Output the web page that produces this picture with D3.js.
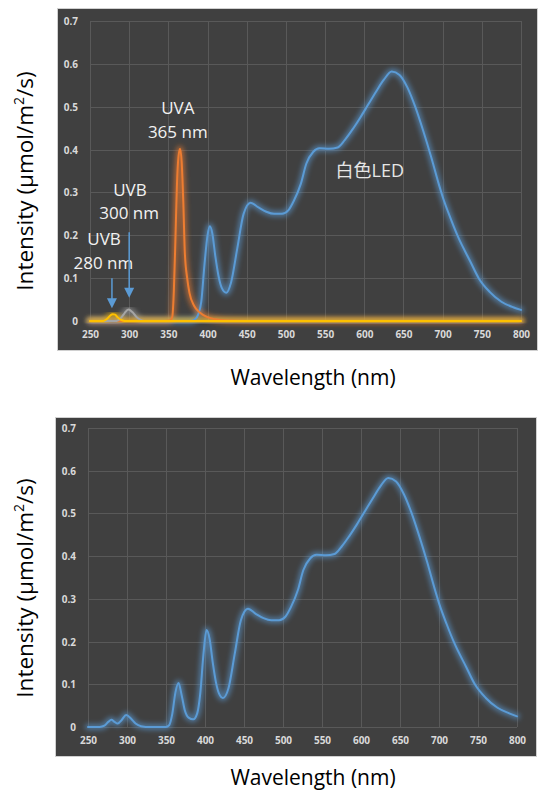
<!DOCTYPE html>
<html>
<head>
<meta charset="utf-8">
<script src="https://cdn.jsdelivr.net/npm/d3@7"></script>
<style>
  html, body { margin: 0; padding: 0; background: #ffffff; }
  svg { display: block; }
</style>
</head>
<body>
<svg id="chart" width="538" height="791"></svg>
<script>
// ---------------- DATA ----------------
const xTicks = [250, 300, 350, 400, 450, 500, 550, 600, 650, 700, 750, 800];
const yTicks = [0, 0.1, 0.2, 0.3, 0.4, 0.5, 0.6, 0.7];
const yTickLabels = ["0", "0.1", "0.2", "0.3", "0.4", "0.5", "0.6", "0.7"];

// White LED spectrum (top chart) [wavelength nm, intensity]
const ledTop = [
  [250, 0], [300, 0], [350, 0], [378, 0], [384, 0.004], [388, 0.015], [392, 0.045],
  [396, 0.13], [400, 0.2], [403, 0.221], [406, 0.205], [410, 0.15], [414, 0.105],
  [418, 0.078], [424, 0.066], [430, 0.09], [438, 0.17], [446, 0.25], [455, 0.276],
  [465, 0.265], [475, 0.255], [485, 0.25], [495, 0.25], [503, 0.258], [510, 0.28],
  [519, 0.32], [526, 0.367], [535, 0.395], [543, 0.403], [555, 0.402], [566, 0.405],
  [575, 0.422], [585, 0.447], [595, 0.475], [605, 0.505], [615, 0.535], [625, 0.563],
  [635, 0.582], [645, 0.574], [655, 0.545], [665, 0.5], [675, 0.445], [685, 0.385],
  [695, 0.32], [700, 0.29], [710, 0.24], [720, 0.195], [735, 0.14], [746, 0.1],
  [760, 0.068], [775, 0.045], [790, 0.032], [800, 0.026]
];

// UVA 365 nm LED (top chart)
const uva365 = [
  [250, 0], [345, 0], [352, 0.001], [355, 0.01], [357, 0.07], [359, 0.19], [361, 0.32],
  [363, 0.385], [365, 0.402], [367, 0.37], [369, 0.28], [371, 0.16], [374, 0.1],
  [377, 0.065], [383, 0.035], [390, 0.02], [400, 0.009], [410, 0.004], [425, 0.001],
  [450, 0], [800, 0]
];

// UVB 300 nm (top chart)
const uvb300 = [
  [250, 0], [284, 0], [289, 0.006], [294, 0.018], [299, 0.027], [304, 0.021],
  [309, 0.01], [314, 0.003], [320, 0], [800, 0]
];

// UVB 280 nm (top chart)
const uvb280 = [
  [250, 0], [267, 0], [272, 0.005], [276, 0.013], [279, 0.016], [282, 0.015],
  [285, 0.009], [289, 0.003], [294, 0], [800, 0]
];

// White LED spectrum (bottom chart)
const ledBottom = [
  [250, 0], [265, 0], [271, 0.003], [276, 0.012], [280, 0.017], [284, 0.012],
  [288, 0.008], [293, 0.016], [299, 0.028], [305, 0.02], [311, 0.008], [318, 0.002],
  [330, 0], [350, 0], [354, 0.004], [358, 0.03], [362, 0.08], [366, 0.103],
  [370, 0.075], [374, 0.04], [379, 0.022], [385, 0.018], [390, 0.032], [394, 0.08],
  [398, 0.17], [402, 0.227], [406, 0.205], [410, 0.15], [414, 0.105], [418, 0.078],
  [423, 0.068], [430, 0.09], [438, 0.17], [446, 0.25], [455, 0.277], [465, 0.265],
  [475, 0.255], [485, 0.25], [495, 0.25], [503, 0.258], [510, 0.28], [519, 0.32],
  [526, 0.367], [535, 0.395], [543, 0.403], [555, 0.402], [566, 0.405], [575, 0.422],
  [585, 0.447], [595, 0.475], [605, 0.505], [615, 0.535], [625, 0.564], [635, 0.583],
  [645, 0.575], [655, 0.545], [665, 0.5], [675, 0.445], [685, 0.385], [695, 0.32],
  [700, 0.29], [710, 0.24], [720, 0.195], [735, 0.14], [746, 0.1], [760, 0.068],
  [775, 0.045], [790, 0.032], [800, 0.025]
];

// annotations: [text, wavelength, intensity]
const topLabels = [
  ["UVA", 362, 0.483], ["365 nm", 362, 0.427],
  ["UVB", 301, 0.292], ["300 nm", 300, 0.238],
  ["UVB", 268, 0.177], ["280 nm", 267, 0.121]
];
const ledLabel = ["白色LED", 607, 0.336];
// arrows: [wavelength, fromIntensity, toIntensity]
const arrows = [[278, 0.1, 0.03], [300, 0.207, 0.054]];

const xTitle = "Wavelength (nm)";
const yTitleMain = "Intensity (μmol/m";
const yTitleSup = "2";
const yTitleEnd = "/s)";

// ---------------- STYLES ----------------
const C = {
  blue: "#5b9bd5", orange: "#ed7d31", gray: "#a5a5a5", yellow: "#ffc000",
  panel: "#404040", grid: "#595959", tick: "#d9d9d9", border: "#d0d0d0"
};
const FONT = "'Open Sans', 'Noto Sans', 'Noto Sans CJK JP', sans-serif";

const svg = d3.select("#chart");
const defs = svg.append("defs");
const glow = defs.append("filter").attr("id", "glow")
  .attr("x", "-20%").attr("y", "-20%").attr("width", "140%").attr("height", "140%");
glow.append("feGaussianBlur").attr("stdDeviation", 2.4);

function drawChart(cfg) {
  const g = svg.append("g");
  // panel
  g.append("rect")
    .attr("x", cfg.panel[0] + 0.5).attr("y", cfg.panel[1] + 0.5)
    .attr("width", cfg.panel[2]).attr("height", cfg.panel[3])
    .attr("fill", C.panel).attr("stroke", C.border).attr("stroke-width", 1);

  const x = d3.scaleLinear().domain([250, 800]).range([cfg.left, cfg.right]);
  const y = d3.scaleLinear().domain([0, 0.7]).range([cfg.bottom, cfg.top]);

  // gridlines
  g.append("g").selectAll("line.v").data(xTicks).join("line")
    .attr("x1", d => Math.round(x(d)) + 0.5).attr("x2", d => Math.round(x(d)) + 0.5)
    .attr("y1", cfg.top).attr("y2", cfg.bottom)
    .attr("stroke", C.grid).attr("stroke-width", 1);
  g.append("g").selectAll("line.h").data(yTicks).join("line")
    .attr("y1", d => Math.round(y(d)) + 0.5).attr("y2", d => Math.round(y(d)) + 0.5)
    .attr("x1", cfg.left).attr("x2", cfg.right)
    .attr("stroke", C.grid).attr("stroke-width", 1);

  // axes (labels only)
  const xAxis = d3.axisBottom(x).tickValues(xTicks).tickSize(0).tickPadding(0);
  const xg = g.append("g").attr("transform", `translate(0,${cfg.bottom + 10})`).call(xAxis);
  xg.select(".domain").remove();
  xg.selectAll("text").attr("fill", C.tick).attr("font-size", 10)
    .attr("font-weight", "bold").attr("font-family", FONT).attr("dy", "0.71em");

  const yAxis = d3.axisLeft(y).tickValues(yTicks).tickSize(0).tickPadding(0)
    .tickFormat((d, i) => yTickLabels[i]);
  const yg = g.append("g").attr("transform", `translate(${cfg.left - 12},0)`).call(yAxis);
  yg.select(".domain").remove();
  yg.selectAll("text").attr("fill", C.tick).attr("font-size", 10)
    .attr("font-weight", "bold").attr("font-family", FONT).attr("dy", "0.35em");

  const line = d3.line().x(d => x(d[0])).y(d => y(d[1])).curve(d3.curveMonotoneX);

  cfg.series.forEach(s => {
    g.append("path").datum(s.data).attr("d", line)
      .attr("fill", "none").attr("stroke", s.color).attr("stroke-width", 6)
      .attr("stroke-opacity", 0.6).attr("filter", "url(#glow)")
      .attr("stroke-linejoin", "round").attr("stroke-linecap", "round");
  });
  cfg.series.forEach(s => {
    g.append("path").datum(s.data).attr("d", line)
      .attr("fill", "none").attr("stroke", s.color).attr("stroke-width", 2)
      .attr("stroke-linejoin", "round").attr("stroke-linecap", "round");
  });

  // axis titles
  const yt = g.append("text")
    .attr("transform", `translate(${cfg.yTitle[0]},${cfg.yTitle[1]}) rotate(-90)`)
    .attr("text-anchor", "middle").attr("font-family", FONT).attr("font-size", 22.5)
    .attr("fill", "#000");
  yt.append("tspan").text(yTitleMain);
  yt.append("tspan").text(yTitleSup).attr("font-size", 14).attr("dy", -9);
  yt.append("tspan").text(yTitleEnd).attr("dy", 9);

  g.append("text").attr("x", cfg.xTitle[0]).attr("y", cfg.xTitle[1])
    .attr("text-anchor", "middle").attr("font-family", FONT).attr("font-size", 21)
    .attr("fill", "#000").text(xTitle);

  return { g, x, y };
}

const topChart = drawChart({
  panel: [57, 8, 480, 342],
  left: 90, right: 521, top: 21, bottom: 321,
  yTitle: [33, 181], xTitle: [313, 385],
  series: [
    { data: ledTop, color: C.blue },
    { data: uva365, color: C.orange },
    { data: uvb300, color: C.gray },
    { data: uvb280, color: C.yellow }
  ]
});

const bottomChart = drawChart({
  panel: [55, 417, 481, 339],
  left: 88, right: 517, top: 428, bottom: 727,
  yTitle: [33, 588], xTitle: [313, 785],
  series: [{ data: ledBottom, color: C.blue }]
});

// annotations on top chart
topChart.g.append("g").selectAll("text").data(topLabels).join("text")
  .attr("x", d => topChart.x(d[1])).attr("y", d => topChart.y(d[2]))
  .attr("text-anchor", "middle").attr("font-family", FONT).attr("font-size", 17)
  .attr("fill", "#f2f2f2").text(d => d[0]);

topChart.g.append("text")
  .attr("x", topChart.x(ledLabel[1])).attr("y", topChart.y(ledLabel[2]))
  .attr("text-anchor", "middle").attr("font-family", FONT).attr("font-size", 18)
  .attr("fill", "#e6e6e6").text(ledLabel[0]);

const ag = topChart.g.append("g");
arrows.forEach(a => {
  const ax = topChart.x(a[0]), y1 = topChart.y(a[1]), y2 = topChart.y(a[2]);
  ag.append("line").attr("x1", ax).attr("x2", ax).attr("y1", y1).attr("y2", y2 - 8)
    .attr("stroke", C.blue).attr("stroke-width", 1.5);
  ag.append("path")
    .attr("d", `M${ax - 5},${y2 - 10} L${ax + 5},${y2 - 10} L${ax},${y2} Z`)
    .attr("fill", C.blue);
});
</script>
</body>
</html>
